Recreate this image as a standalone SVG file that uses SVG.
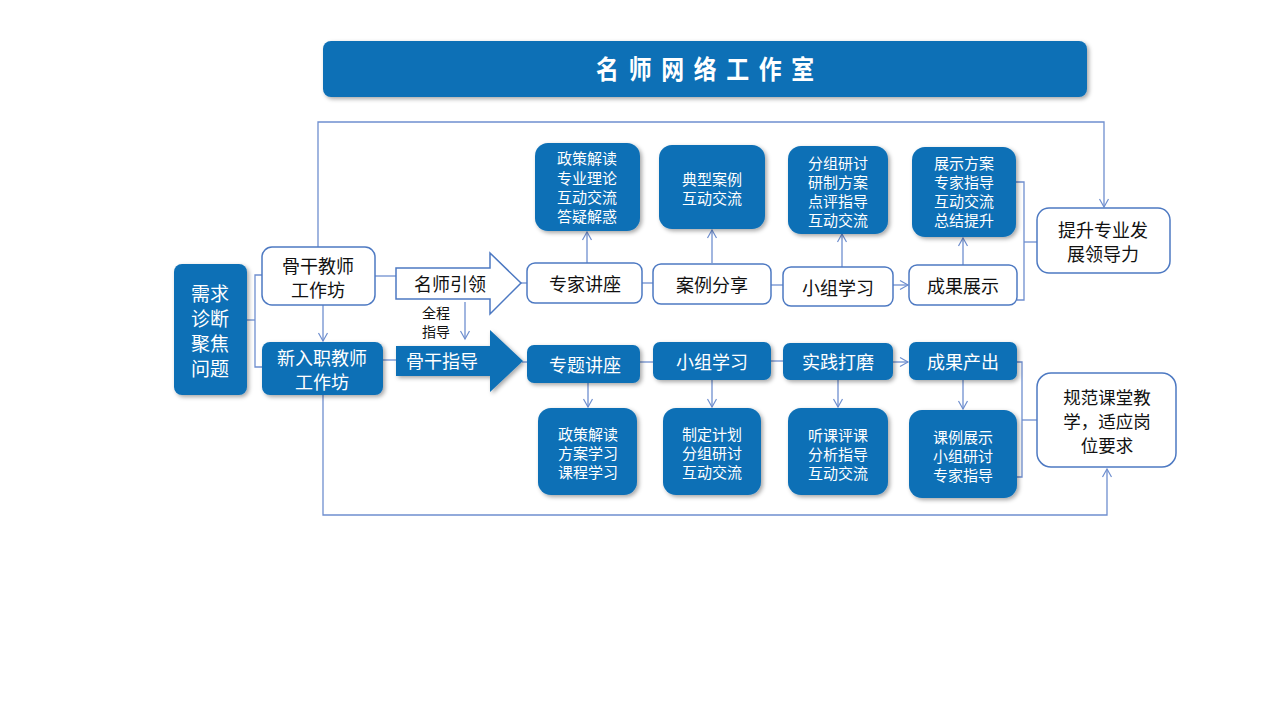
<svg xmlns="http://www.w3.org/2000/svg" width="1280" height="720" viewBox="0 0 1280 720">
<defs>
<filter id="sh" x="-20%" y="-20%" width="140%" height="140%">
<feDropShadow dx="2" dy="2" stdDeviation="2" flood-color="#000" flood-opacity="0.35"/>
</filter>
<marker id="ar" markerUnits="userSpaceOnUse" markerWidth="12" markerHeight="12" refX="9" refY="6" orient="auto">
<path d="M1,1.5 L9,6 L1,10.5" fill="none" stroke="#6f8fcf" stroke-width="1.2"/>
</marker>
</defs>
<style>
text{font-family:"Noto Sans CJK SC","Noto Sans",sans-serif;text-anchor:middle;dominant-baseline:central}
.bf{fill:#0a6fb6;filter:url(#sh)}
.wf{fill:#fff;stroke:#4d79c2;stroke-width:1.5}
.wt{fill:#fff}
.kt{fill:#111}
.ln{fill:none;stroke:#6f8fcf;stroke-width:1.3}
.f18{font-size:18px}
.f17{font-size:17.5px}
.f16{font-size:15px}
.f20{font-size:19px}
</style>
<rect width="1280" height="720" fill="#fff"/>

<g id="title">
<rect x="323" y="41" width="764" height="56" rx="8" class="bf"/>
<text transform="translate(710,68) scale(0.88,1)" class="wt" style="font-size:26px;font-weight:bold;letter-spacing:11px">名师网络工作室</text>
</g>

<g id="connectors">
<polyline class="ln" points="318,248 318,122 1104,122 1104,207" marker-end="url(#ar)"/>
<polyline class="ln" points="323,395 323,515 1107,515 1107,469" marker-end="url(#ar)"/>
<polyline class="ln" points="247,320 255,320"/>
<polyline class="ln" points="262,275 255,275 255,367 262,367"/>
<line class="ln" x1="323" y1="305" x2="323" y2="341" marker-end="url(#ar)"/>
<line class="ln" x1="375" y1="276" x2="396" y2="276"/>
<line class="ln" x1="383" y1="360" x2="396" y2="360"/>
<line class="ln" x1="465" y1="302" x2="465" y2="339" marker-end="url(#ar)"/>
<line class="ln" x1="521" y1="283" x2="527" y2="283"/>
<line class="ln" x1="522" y1="362" x2="527" y2="362"/>
<line class="ln" x1="642" y1="283" x2="653" y2="283"/>
<line class="ln" x1="771" y1="285" x2="783" y2="285"/>
<line class="ln" x1="893" y1="285" x2="908" y2="285" marker-end="url(#ar)"/>
<line class="ln" x1="640" y1="362" x2="653" y2="362"/>
<line class="ln" x1="771" y1="361" x2="783" y2="361"/>
<line class="ln" x1="893" y1="362" x2="908" y2="362" marker-end="url(#ar)"/>
<line class="ln" x1="587" y1="263" x2="587" y2="232" marker-end="url(#ar)"/>
<line class="ln" x1="712" y1="263" x2="712" y2="230" marker-end="url(#ar)"/>
<line class="ln" x1="842" y1="267" x2="842" y2="234" marker-end="url(#ar)"/>
<line class="ln" x1="963" y1="265" x2="963" y2="238" marker-end="url(#ar)"/>
<line class="ln" x1="588" y1="383" x2="588" y2="407" marker-end="url(#ar)"/>
<line class="ln" x1="712" y1="380" x2="712" y2="407" marker-end="url(#ar)"/>
<line class="ln" x1="838" y1="380" x2="838" y2="407" marker-end="url(#ar)"/>
<line class="ln" x1="963" y1="380" x2="963" y2="409" marker-end="url(#ar)"/>
<polyline class="ln" points="1008,182 1024,182 1024,300 1017,300"/>
<line class="ln" x1="1024" y1="242" x2="1037" y2="242"/>
<polyline class="ln" points="1008,362 1022,362 1022,477 1008,477"/>
<line class="ln" x1="1022" y1="420" x2="1037" y2="420"/>
</g>

<g id="need">
<rect x="174" y="264" width="73" height="131" rx="8" class="bf"/>
<text class="wt f20" x="210" y="292">需求</text>
<text class="wt f20" x="210" y="317">诊断</text>
<text class="wt f20" x="210" y="342">聚焦</text>
<text class="wt f20" x="210" y="367">问题</text>
</g>

<g id="backbone">
<rect x="262" y="247" width="113" height="58" rx="10" class="wf"/>
<text class="kt f18" x="318" y="265">骨干教师</text>
<text class="kt f18" x="318" y="289">工作坊</text>
</g>

<g id="newteacher">
<rect x="262" y="342" width="121" height="53" rx="8" class="bf"/>
<text class="wt f18" x="322" y="357">新入职教师</text>
<text class="wt f18" x="322" y="381">工作坊</text>
</g>

<g id="lead">
<path d="M396,268 L490,268 L490,253 L521,283 L490,314 L490,299 L396,299 Z" class="wf"/>
<text class="kt f18" x="450" y="283">名师引领</text>
</g>

<g id="guide-label">
<text class="kt" style="font-size:14px" x="436" y="312">全程</text>
<text class="kt" style="font-size:14px" x="436" y="331">指导</text>
</g>

<g id="guide">
<path d="M396,346 L490,346 L490,330 L523,361 L490,392 L490,376 L396,376 Z" class="bf"/>
<text class="wt f18" x="442" y="360">骨干指导</text>
</g>

<g id="u1">
<rect x="527" y="263" width="115" height="40" rx="8" class="wf"/>
<text class="kt f18" x="585" y="283">专家讲座</text>
</g>
<g id="u2">
<rect x="653" y="264" width="118" height="40" rx="8" class="wf"/>
<text class="kt f18" x="712" y="284">案例分享</text>
</g>
<g id="u3">
<rect x="783" y="267" width="110" height="39" rx="8" class="wf"/>
<text class="kt f18" x="838" y="287">小组学习</text>
</g>
<g id="u4">
<rect x="909" y="265" width="108" height="40" rx="8" class="wf"/>
<text class="kt f18" x="963" y="285">成果展示</text>
</g>

<g id="ud1">
<rect x="535" y="143" width="105" height="88" rx="13" class="bf"/>
<text class="wt f16" x="587" y="157">政策解读</text>
<text class="wt f16" x="587" y="177">专业理论</text>
<text class="wt f16" x="587" y="196">互动交流</text>
<text class="wt f16" x="587" y="215">答疑解惑</text>
</g>
<g id="ud2">
<rect x="659" y="145" width="106" height="84" rx="13" class="bf"/>
<text class="wt f16" x="712" y="178">典型案例</text>
<text class="wt f16" x="712" y="197">互动交流</text>
</g>
<g id="ud3">
<rect x="788" y="146" width="100" height="88" rx="13" class="bf"/>
<text class="wt f16" x="838" y="162">分组研讨</text>
<text class="wt f16" x="838" y="181">研制方案</text>
<text class="wt f16" x="838" y="200">点评指导</text>
<text class="wt f16" x="838" y="219">互动交流</text>
</g>
<g id="ud4">
<rect x="912" y="147" width="104" height="90" rx="13" class="bf"/>
<text class="wt f16" x="964" y="162">展示方案</text>
<text class="wt f16" x="964" y="181">专家指导</text>
<text class="wt f16" x="964" y="200">互动交流</text>
<text class="wt f16" x="964" y="219">总结提升</text>
</g>

<g id="goal1">
<rect x="1037" y="208" width="133" height="65" rx="12" class="wf"/>
<text class="kt f18" x="1103" y="229">提升专业发</text>
<text class="kt f18" x="1103" y="253">展领导力</text>
</g>

<g id="l1">
<rect x="527" y="345" width="113" height="38" rx="7" class="bf"/>
<text class="wt f18" x="585" y="364">专题讲座</text>
</g>
<g id="l2">
<rect x="653" y="342" width="118" height="38" rx="7" class="bf"/>
<text class="wt f18" x="712" y="361">小组学习</text>
</g>
<g id="l3">
<rect x="783" y="343" width="110" height="37" rx="7" class="bf"/>
<text class="wt f18" x="838" y="361">实践打磨</text>
</g>
<g id="l4">
<rect x="909" y="342" width="108" height="38" rx="7" class="bf"/>
<text class="wt f18" x="963" y="361">成果产出</text>
</g>

<g id="ld1">
<rect x="538" y="408" width="99" height="87" rx="13" class="bf"/>
<text class="wt f16" x="588" y="433">政策解读</text>
<text class="wt f16" x="588" y="452">方案学习</text>
<text class="wt f16" x="588" y="471">课程学习</text>
</g>
<g id="ld2">
<rect x="663" y="408" width="98" height="87" rx="13" class="bf"/>
<text class="wt f16" x="712" y="433">制定计划</text>
<text class="wt f16" x="712" y="452">分组研讨</text>
<text class="wt f16" x="712" y="471">互动交流</text>
</g>
<g id="ld3">
<rect x="788" y="408" width="100" height="87" rx="13" class="bf"/>
<text class="wt f16" x="838" y="434">听课评课</text>
<text class="wt f16" x="838" y="453">分析指导</text>
<text class="wt f16" x="838" y="472">互动交流</text>
</g>
<g id="ld4">
<rect x="909" y="410" width="108" height="88" rx="13" class="bf"/>
<text class="wt f16" x="963" y="436">课例展示</text>
<text class="wt f16" x="963" y="455">小组研讨</text>
<text class="wt f16" x="963" y="474">专家指导</text>
</g>

<g id="goal2">
<rect x="1037" y="373" width="139" height="94" rx="14" class="wf"/>
<text class="kt f17" x="1107" y="396">规范课堂教</text>
<text class="kt f17" x="1107" y="420">学，适应岗</text>
<text class="kt f17" x="1107" y="444">位要求</text>
</g>
</svg>
